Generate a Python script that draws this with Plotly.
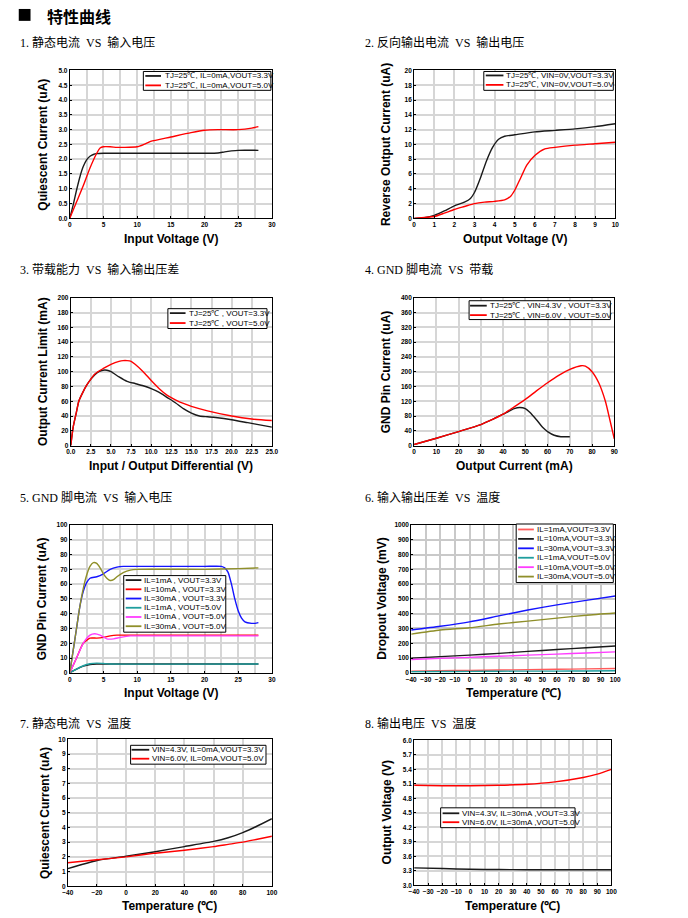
import plotly.graph_objects as go

# the page body margin is removed after plotting, so the figure fills the window exactly
OFF = 0
W, H = 688, 918

# ---------------- data ----------------
# 1. Quiescent current vs input voltage
p1_x_a = [0, 0.5, 1, 1.5, 2, 2.5, 3, 3.5, 4, 5, 10, 15, 20, 22, 23, 24, 25, 28]
p1_y_a = [0, 0.45, 0.95, 1.4, 1.75, 1.98, 2.1, 2.16, 2.19, 2.2, 2.2, 2.2, 2.2, 2.21, 2.25, 2.28, 2.3, 2.3]
p1_x_b = [0, 1, 2, 3, 4, 4.5, 5, 6, 7, 8, 10, 11, 12, 15, 18, 20, 22, 25, 27, 28]
p1_y_b = [0, 0.55, 1.1, 1.7, 2.2, 2.38, 2.42, 2.42, 2.4, 2.4, 2.42, 2.5, 2.6, 2.75, 2.9, 2.98, 3.0, 3.0, 3.05, 3.1]

# 2. Reverse output current vs output voltage
p2_x_a = [0, 0.5, 1, 1.5, 2, 2.5, 2.8, 3, 3.3, 3.6, 3.9, 4.2, 4.5, 5, 6, 7, 8, 9, 10]
p2_y_a = [0, 0.1, 0.4, 1.0, 1.7, 2.2, 2.7, 3.5, 5.5, 7.8, 9.6, 10.7, 11.1, 11.3, 11.7, 11.9, 12.1, 12.4, 12.8]
p2_x_b = [0, 1, 1.5, 2, 2.5, 3, 3.5, 4, 4.5, 4.8, 5, 5.3, 5.6, 6, 6.5, 7, 8, 9, 10]
p2_y_b = [0, 0.25, 0.7, 1.2, 1.6, 2.0, 2.2, 2.3, 2.5, 3.0, 3.8, 5.5, 7.2, 8.5, 9.4, 9.6, 9.9, 10.1, 10.3]

# 3. Output current limit vs input/output differential
p3_x_a = [0, 0.3, 0.7, 1, 1.5, 2, 2.5, 3, 3.5, 4, 4.5, 5, 6, 7, 8, 9, 10, 11, 12, 13, 14, 15, 16, 17, 18, 20, 22, 24, 25]
p3_y_a = [0, 25, 45, 60, 72, 82, 90, 96, 100, 102, 102, 100, 93, 87, 84, 81, 77, 72, 65, 58, 50, 44, 40, 39, 38, 35, 31, 27, 25]
p3_x_b = [0, 0.3, 0.7, 1, 1.5, 2, 2.5, 3, 4, 5, 6, 6.5, 7, 7.5, 8, 9, 10, 11, 12, 13, 14, 15, 17, 20, 22.5, 25]
p3_y_b = [0, 25, 45, 60, 72, 82, 90, 97, 104, 110, 114, 115, 115, 114, 110, 100, 88, 77, 68, 62, 57, 53, 47, 40, 36, 34]

# 4. GND pin current vs output current
p4_x_a = [0, 10, 20, 30, 35, 40, 45, 47.5, 50, 52, 55, 58, 60, 63, 66, 70]
p4_y_a = [3, 20, 38, 57, 70, 85, 100, 103, 100, 90, 70, 48, 38, 28, 24, 24]
p4_x_b = [0, 10, 20, 30, 35, 40, 45, 50, 55, 60, 65, 70, 75, 77, 80, 83, 86, 88, 90]
p4_y_b = [3, 20, 38, 57, 70, 85, 105, 125, 148, 170, 190, 206, 216, 215, 200, 170, 120, 70, 18]

# 5. GND pin current vs input voltage
p5_x_1 = [0, 1, 2, 3, 4, 5, 28]
p5_y_1 = [0, 2.5, 4.5, 5.7, 6.0, 6.0, 6.0]
p5_x_2 = [0, 1, 2, 3, 4, 5, 6, 7, 10, 28]
p5_y_2 = [0, 10, 20, 23.5, 23.5, 24, 25, 25.5, 25.5, 25.5]
p5_x_3 = [0, 0.5, 1, 1.5, 2, 2.5, 3, 4, 5, 6, 7, 8, 10, 15, 20, 22.5, 23, 23.5, 24, 24.5, 25, 25.5, 26, 27, 27.5, 28]
p5_y_3 = [0, 15, 30, 45, 55, 61, 64, 65, 67, 70, 71.5, 72, 72, 72, 72, 72, 71, 68, 60, 50, 42, 37, 34.5, 33.5, 33.5, 34]
p5_x_4 = [0, 1, 2, 3, 4, 5, 6, 28]
p5_y_4 = [0, 2.5, 4.8, 6.2, 6.6, 6.3, 6.0, 6.0]
p5_x_5 = [0, 1, 2, 3, 3.7, 4.5, 5.5, 6.5, 7.5, 9, 10, 28]
p5_y_5 = [0, 10, 20, 25.5, 26.5, 25.5, 23, 23, 24, 25, 25, 25]
p5_x_6 = [0, 0.5, 1, 1.5, 2, 2.5, 3, 3.5, 4, 4.5, 5, 5.5, 6, 6.5, 7, 8, 9, 10, 20, 25, 28]
p5_y_6 = [0, 15, 30, 45, 57, 66, 72, 74.5, 74, 71, 67, 64, 62.5, 63, 65, 68, 69.5, 70, 70, 70.5, 71]

# 6. Dropout voltage vs temperature
p6_t = [-40, -20, 0, 20, 40, 60, 80, 100]
p6_y_1 = [12, 14, 17, 19, 22, 24, 27, 30]
p6_y_2 = [100, 110, 120, 132, 145, 158, 170, 182]
p6_y_3 = [290, 315, 345, 385, 425, 460, 490, 520]
p6_y_4 = [8, 9, 10, 11, 12, 12, 13, 14]
p6_y_5 = [90, 98, 105, 112, 120, 127, 134, 142]
p6_y_6 = [262, 290, 305, 330, 350, 370, 390, 405]

# 7. Quiescent current vs temperature
p7_t = [-40, -20, 0, 20, 40, 60, 70, 80, 90, 100]
p7_y_a = [1.2, 1.75, 2.05, 2.35, 2.7, 3.05, 3.3, 3.65, 4.1, 4.6]
p7_y_b = [1.6, 1.8, 2.0, 2.25, 2.45, 2.7, 2.85, 3.0, 3.2, 3.4]

# 8. Output voltage vs temperature
p8_t = [-40, -20, 0, 20, 40, 60, 80, 90, 100]
p8_y_a = [3.36, 3.345, 3.33, 3.325, 3.32, 3.32, 3.32, 3.32, 3.32]
p8_y_b = [5.07, 5.06, 5.06, 5.07, 5.09, 5.14, 5.23, 5.3, 5.4]

# tick values
p1_xt = [0, 5, 10, 15, 20, 25, 30]
p1_yt = [0, 0.5, 1, 1.5, 2, 2.5, 3, 3.5, 4, 4.5, 5]
p2_xt = list(range(0, 11))
p2_yt = list(range(0, 21, 2))
p3_xt = [0, 2.5, 5, 7.5, 10, 12.5, 15, 17.5, 20, 22.5, 25]
p3_yt = list(range(0, 201, 20))
p4_xt = list(range(0, 91, 10))
p4_yt = list(range(0, 401, 40))
p5_xt = [0, 5, 10, 15, 20, 25, 30]
p5_yt = list(range(0, 101, 10))
p6_xt = list(range(-40, 101, 10))
p6_yt = list(range(0, 1001, 100))
p7_xt = list(range(-40, 101, 20))
p7_yt = list(range(0, 11))
p8_xt = list(range(-40, 101, 10))
p8_yt = [3.0, 3.3, 3.6, 3.9, 4.2, 4.5, 4.8, 5.1, 5.4, 5.7, 6.0]

# labels
titles = ["1. 静态电流  VS  输入电压", "2. 反向输出电流  VS  输出电压",
          "3. 带载能力  VS  输入输出压差", "4. GND 脚电流  VS  带载",
          "5. GND 脚电流  VS  输入电压", "6. 输入输出压差  VS  温度",
          "7. 静态电流  VS  温度", "8. 输出电压  VS  温度"]
xtitles = ["Input Voltage (V)", "Output Voltage (V)", "Input / Output Differential (V)",
           "Output Current (mA)", "Input Voltage (V)", "Temperature (℃)",
           "Temperature (℃)", "Temperature (℃)"]
ytitles = ["Quiescent Current (uA)", "Reverse Output Current (uA)", "Output Current Limit (mA)",
           "GND Pin Current (uA)", "GND Pin Current (uA)", "Dropout Voltage (mV)",
           "Quiescent Current (uA)", "Output Voltage (V)"]
names1 = ["TJ=25℃, IL=0mA,VOUT=3.3V", "TJ=25℃, IL=0mA,VOUT=5.0V"]
names2 = ["TJ=25℃, VIN=0V,VOUT=3.3V", "TJ=25℃, VIN=0V,VOUT=5.0V"]
names3 = ["TJ=25℃ , VOUT=3.3V", "TJ=25℃ , VOUT=5.0V"]
names4 = ["TJ=25℃ , VIN=4.3V , VOUT=3.3V", "TJ=25℃ , VIN=6.0V , VOUT=5.0V"]
names5 = ["IL=1mA , VOUT=3.3V", "IL=10mA , VOUT=3.3V", "IL=30mA , VOUT=3.3V",
          "IL=1mA , VOUT=5.0V", "IL=10mA , VOUT=5.0V", "IL=30mA , VOUT=5.0V"]
names6 = ["IL=1mA,VOUT=3.3V", "IL=10mA,VOUT=3.3V", "IL=30mA,VOUT=3.3V",
          "IL=1mA,VOUT=5.0V", "IL=10mA,VOUT=5.0V", "IL=30mA,VOUT=5.0V"]
names7 = ["VIN=4.3V, IL=0mA,VOUT=3.3V", "VIN=6.0V, IL=0mA,VOUT=5.0V"]
names8 = ["VIN=4.3V, IL=30mA ,VOUT=3.3V", "VIN=6.0V, IL=30mA ,VOUT=5.0V"]

# ---------------- styling ----------------
BLACK = "#1a1a1a"
RED = "#ff0000"
BLUE = "#1414ff"
TEAL = "#1f9e9e"
MAGENTA = "#ff3cff"
OLIVE = "#8f8f2a"
RED6 = "#ff5a5a"

SANS = "Liberation Sans, Arial, sans-serif"
CJK = "Liberation Serif, Noto Sans CJK SC, serif"

# plot areas in page pixels: left, right, top, bottom
areas = [(65, 271, 67, 216), (416, 621, 67, 216),
         (66, 271, 296, 445), (416, 620, 296, 445),
         (65, 271, 525, 674), (413, 621, 525, 674),
         (63, 271, 741, 889), (416, 617, 742, 888)]

panels = [
    dict(x=[p1_x_a, p1_x_b], y=[p1_y_a, p1_y_b], c=[BLACK, RED], n=names1,
         xr=[0, 30], yr=[0, 5], xt=p1_xt, yt=p1_yt, xf="", yf=".1f", minor=2.5,
         leg=(140, 270, 68, 87), legline=(142, 158), legtext=160, legrows=[72.5, 82]),
    dict(x=[p2_x_a, p2_x_b], y=[p2_y_a, p2_y_b], c=[BLACK, RED], n=names2,
         xr=[0, 10], yr=[0, 20], xt=p2_xt, yt=p2_yt, xf="", yf="", minor=None,
         leg=(487, 619, 68, 87), legline=(489, 507), legtext=508, legrows=[72, 81.5]),
    dict(x=[p3_x_a, p3_x_b], y=[p3_y_a, p3_y_b], c=[BLACK, RED], n=names3,
         xr=[0, 25], yr=[0, 200], xt=p3_xt, yt=p3_yt, xf=".1f", yf="", minor=None,
         leg=(165, 266, 307, 327), legline=(167, 183), legtext=184, legrows=[311.5, 321.5]),
    dict(x=[p4_x_a, p4_x_b], y=[p4_y_a, p4_y_b], c=[BLACK, RED], n=names4,
         xr=[0, 90], yr=[0, 400], xt=p4_xt, yt=p4_yt, xf="", yf="", minor=None,
         leg=(472, 616, 299, 318), legline=(473, 490), legtext=491, legrows=[304, 313.5]),
    dict(x=[p5_x_1, p5_x_2, p5_x_3, p5_x_4, p5_x_5, p5_x_6],
         y=[p5_y_1, p5_y_2, p5_y_3, p5_y_4, p5_y_5, p5_y_6],
         c=[BLACK, RED, BLUE, TEAL, MAGENTA, OLIVE], n=names5,
         xr=[0, 30], yr=[0, 100], xt=p5_xt, yt=p5_yt, xf="", yf="", minor=2.5,
         leg=(120, 224, 576, 633), legline=(122, 138), legtext=139,
         legrows=[580.5, 589.8, 599.1, 608.4, 617.7, 627]),
    dict(x=[p6_t] * 6, y=[p6_y_1, p6_y_2, p6_y_3, p6_y_4, p6_y_5, p6_y_6],
         c=[RED6, BLACK, BLUE, TEAL, MAGENTA, OLIVE], n=names6,
         xr=[-40, 100], yr=[0, 1000], xt=p6_xt, yt=p6_yt, xf="", yf="", minor=None,
         leg=(520, 619, 524, 583), legline=(522, 538), legtext=539,
         legrows=[529.5, 539, 548.5, 558, 567.5, 577]),
    dict(x=[p7_t, p7_t], y=[p7_y_a, p7_y_b], c=[BLACK, RED], n=names7,
         xr=[-40, 100], yr=[0, 10], xt=p7_xt, yt=p7_yt, xf="", yf="", minor=None,
         leg=(127, 265, 747, 766), legline=(128, 146), legtext=147, legrows=[751.5, 760.5]),
    dict(x=[p8_t, p8_t], y=[p8_y_a, p8_y_b], c=[BLACK, RED], n=names8,
         xr=[-40, 100], yr=[3.0, 6.0], xt=p8_xt, yt=p8_yt, xf="", yf=".1f", minor=None,
         leg=(443, 580, 810, 830), legline=(445, 462), legtext=463, legrows=[815.5, 824.5]),
]

title_pos = [(12, 39), (364, 39), (12, 268), (364, 268), (12, 497), (364, 497), (12, 725), (364, 725)]
xtitle_y = [237, 237, 466, 466, 694, 694, 909, 909]
ytitle_x = [38, 388, 37, 387, 37, 383, 40, 388]


def px(x):
    return (x - OFF) / W


def py(y):
    return 1 - (y - OFF) / H


fig = go.Figure()
shapes = []
annotations = []
layout_axes = {}

for i, (p, a) in enumerate(zip(panels, areas)):
    k = i + 1
    xa = "x" if k == 1 else f"x{k}"
    ya = "y" if k == 1 else f"y{k}"
    for xs, ys, col, nm in zip(p["x"], p["y"], p["c"], p["n"]):
        fig.add_trace(go.Scatter(x=xs, y=ys, mode="lines", name=nm, showlegend=False,
                                 line=dict(color=col, width=1.4, shape="spline", smoothing=0.6),
                                 xaxis=xa, yaxis=ya))
    left, right, top, bottom = a
    gridcol = "#c9c9c9" if k == 6 else "#d6d6d6"
    gridw = 2.2 if k == 6 else 1.6
    tf = dict(family=SANS, size=6.5, color="black", weight="bold")
    xax = dict(domain=[px(left), px(right)], range=p["xr"], tickvals=p["xt"], tickformat=p["xf"],
               showgrid=True, gridcolor=gridcol, gridwidth=gridw, zeroline=False,
               showline=True, linecolor="black", linewidth=1, mirror=True,
               ticks="inside", ticklen=2, tickcolor="black", tickfont=tf,
               anchor=ya, fixedrange=True)
    if p["minor"]:
        xax["minor"] = dict(dtick=p["minor"], showgrid=True, gridcolor=gridcol, gridwidth=gridw,
                            ticks="")
    yax = dict(domain=[py(bottom), py(top)], range=p["yr"], tickvals=p["yt"], tickformat=p["yf"],
               showgrid=True, gridcolor=gridcol, gridwidth=gridw, zeroline=False,
               showline=True, linecolor="black", linewidth=1, mirror=True,
               ticks="inside", ticklen=2, tickcolor="black", tickfont=tf,
               anchor=xa, fixedrange=True)
    layout_axes["xaxis" if k == 1 else f"xaxis{k}"] = xax
    layout_axes["yaxis" if k == 1 else f"yaxis{k}"] = yax

    # panel title
    tx, ty = title_pos[i]
    annotations.append(dict(text=titles[i], x=px(tx), y=py(ty), xref="paper", yref="paper",
                            xanchor="left", yanchor="middle", showarrow=False,
                            font=dict(family=CJK, size=12, color="black")))
    # axis titles
    annotations.append(dict(text=f"<b>{xtitles[i]}</b>", x=px((left + right) / 2), y=py(xtitle_y[i]),
                            xref="paper", yref="paper", xanchor="center", yanchor="middle",
                            showarrow=False, font=dict(family=SANS, size=12, color="black")))
    annotations.append(dict(text=f"<b>{ytitles[i]}</b>", x=px(ytitle_x[i]), y=py((top + bottom) / 2),
                            xref="paper", yref="paper", xanchor="center", yanchor="middle",
                            textangle=-90, showarrow=False,
                            font=dict(family=SANS, size=12, color="black")))
    # legend box
    l0, l1, t0, t1 = p["leg"]
    shapes.append(dict(type="rect", xref="paper", yref="paper", x0=px(l0), x1=px(l1),
                       y0=py(t1), y1=py(t0), line=dict(color="black", width=1),
                       fillcolor="white", layer="above"))
    s0, s1 = p["legline"]
    for col, nm, ry in zip(p["c"], p["n"], p["legrows"]):
        shapes.append(dict(type="line", xref="paper", yref="paper", x0=px(s0), x1=px(s1),
                           y0=py(ry), y1=py(ry), line=dict(color=col, width=1.8), layer="above"))
        annotations.append(dict(text=nm, x=px(p["legtext"]), y=py(ry), xref="paper", yref="paper",
                                xanchor="left", yanchor="middle", showarrow=False,
                                font=dict(family=SANS, size=8, color="black")))

# header
shapes.append(dict(type="rect", xref="paper", yref="paper", x0=px(13), x1=px(25),
                   y0=py(17), y1=py(5), fillcolor="black", line=dict(width=0)))
annotations.append(dict(text="<b>特性曲线</b>", x=px(40), y=py(12), xref="paper", yref="paper",
                        xanchor="left", yanchor="middle", showarrow=False,
                        font=dict(family="Noto Sans CJK SC, sans-serif", size=16, color="black")))

fig.update_layout(width=W, height=H, margin=dict(l=0, r=0, t=0, b=0),
                  paper_bgcolor="white", plot_bgcolor="white", showlegend=False,
                  shapes=shapes, annotations=annotations, **layout_axes)

fig.write_html("out.html", config=dict(displayModeBar=False),
               post_script="document.body.style.margin='0';document.body.style.overflow='hidden';")
